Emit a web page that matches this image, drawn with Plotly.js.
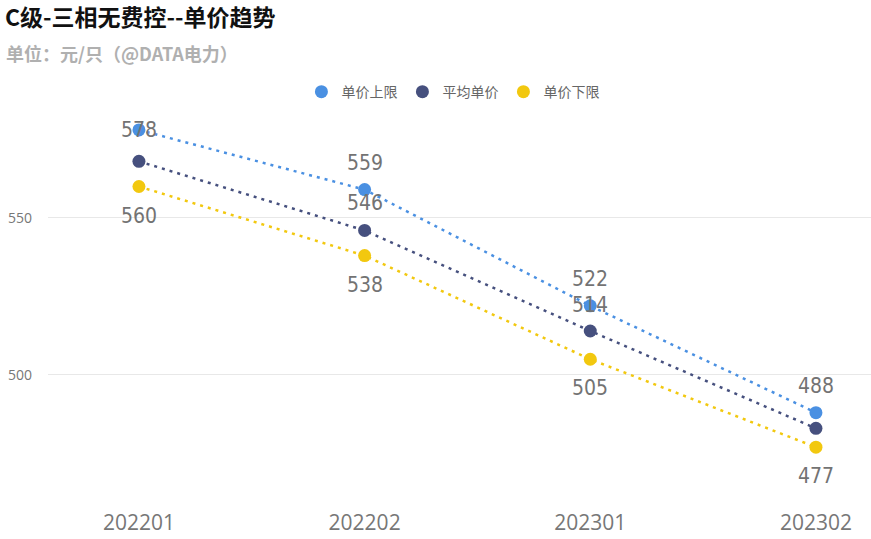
<!DOCTYPE html>
<html>
<head>
<meta charset="utf-8">
<script src="https://cdn.plot.ly/plotly-3.0.1.min.js"></script>
<style>html,body{margin:0;padding:0;background:#fff;}#chart{width:871px;height:539px;}</style>
</head>
<body>
<div id="chart"></div>
<script>
// ---- data ----
const categories = ['202201', '202202', '202301', '202302'];
const upperPrice = [578, 559, 522, 488];   // 单价上限
const avgPrice   = [568, 546, 514, 483];   // 平均单价
const lowerPrice = [560, 538, 505, 477];   // 单价下限
const seriesNames = ['单价上限', '平均单价', '单价下限'];
const yTickVals = [500, 550];

// ---- styles ----
const colors = ['#4A90E2', '#46507E', '#F2C80F'];
const series = [upperPrice, avgPrice, lowerPrice];
// label placement per series: pixel shift (positive = up); null = hidden
const labelShift = [
  [0, 27, 27, 27],
  [null, 27, 26, null],
  [-30, -29, -29, -29]
];

const traces = [];
series.forEach((vals, i) => {
  traces.push({
    x: categories, y: vals, type: 'scatter', mode: 'lines',
    line: {color: colors[i], width: 2.5, dash: '3px,5px'},
    showlegend: false, hoverinfo: 'skip', cliponaxis: false
  });
});
series.forEach((vals, i) => {
  traces.push({
    x: categories, y: vals, type: 'scatter', mode: 'markers',
    name: seriesNames[i],
    marker: {color: colors[i], size: 13},
    cliponaxis: false
  });
});

const annotations = [];
series.forEach((vals, i) => {
  vals.forEach((v, j) => {
    const s = labelShift[i][j];
    if (s === null) return;
    annotations.push({
      x: j, y: v, xref: 'x', yref: 'y',
      text: String(v), showarrow: false, yshift: s,
      xanchor: 'center', yanchor: 'middle',
      font: {family: 'DejaVu Sans Condensed, DejaVu Sans', size: 21, color: '#737373'}
    });
  });
});
annotations.push({
  xref: 'paper', yref: 'paper', x: -0.053, y: 1.168,
  xanchor: 'left', yanchor: 'middle', showarrow: false,
  text: '<b>单位：元/只（@DATA电力）</b>',
  font: {family: 'Noto Sans CJK SC', size: 18, color: '#B0B0B0'}
});

const layout = {
  width: 871, height: 539,
  margin: {l: 48, r: 0, t: 118, b: 34, pad: 0},
  paper_bgcolor: '#ffffff', plot_bgcolor: '#ffffff',
  title: {
    text: '<b>C级-三相无费控--单价趋势</b>',
    xref: 'container', yref: 'container', x: 5/871, y: 1 - 18/539,
    xanchor: 'left', yanchor: 'middle',
    font: {family: 'Noto Sans CJK SC', size: 23, color: '#111111'}
  },
  xaxis: {
    type: 'category', range: [-0.403, 3.244],
    showgrid: false, zeroline: false, showline: false, ticks: '',
    tickfont: {family: 'Open Sans', size: 21, color: '#777777'},
    ticklabelstandoff: 3
  },
  yaxis: {
    range: [458.6, 581.8], tickvals: yTickVals,
    showgrid: true, gridcolor: '#E8E8E8', gridwidth: 1,
    zeroline: false, showline: false, ticks: '',
    tickfont: {family: 'Open Sans', size: 14, color: '#777777'},
    ticklabelstandoff: 15
  },
  legend: {
    orientation: 'h', x: 0.492, y: 1.067, xanchor: 'center', yanchor: 'middle',
    font: {family: 'Noto Sans CJK SC', size: 14, color: '#666666'},
    itemwidth: 30, tracegroupgap: 0
  },
  annotations: annotations,
  showlegend: true
};

Plotly.newPlot('chart', traces, layout, {displayModeBar: false, staticPlot: true});
</script>
</body>
</html>
